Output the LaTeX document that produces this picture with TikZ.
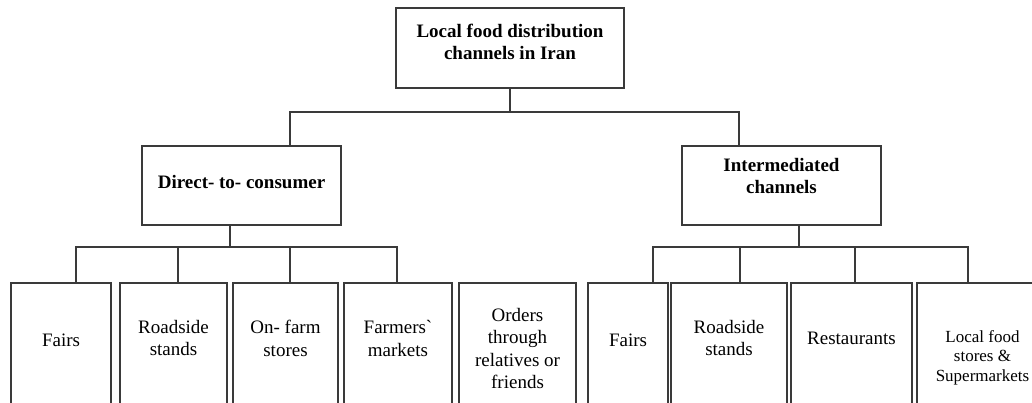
\documentclass[tikz,border=0pt]{standalone}
\usepackage{fontspec}
\setmainfont{Liberation Serif}
\definecolor{linec}{HTML}{3A3A3A}
\begin{document}
\begin{tikzpicture}[x=1pt,y=-1pt,
  box/.style={draw=linec, line width=1.6pt, rectangle, inner sep=0pt, outer sep=0pt, fill=white},
  conn/.style={draw=linec, line width=1.5pt},
  head/.style={font=\fontsize{19}{22}\selectfont\bfseries, align=center, inner sep=0pt},
  leaf/.style={font=\fontsize{19}{22.5}\selectfont, align=center, inner sep=0pt},
  smallleaf/.style={font=\fontsize{17}{19.5}\selectfont, align=center, inner sep=0pt}]
\useasboundingbox (0,0) rectangle (1032,403);
\clip (0,0) rectangle (1032,403);
% level boxes
\node[box, minimum width=228pt, minimum height=80pt] (top) at (510,48) {};
\node[box, minimum width=199pt, minimum height=79pt] (direct) at (241.5,185.5) {};
\node[box, minimum width=199pt, minimum height=79pt] (inter) at (781.5,185.5) {};
% leaf boxes (cut by the lower edge)
\node[box, minimum width=100pt, minimum height=140pt] (fairs) at (61,353) {};
\node[box, minimum width=107pt, minimum height=140pt] (road) at (173.5,353) {};
\node[box, minimum width=105pt, minimum height=140pt] (onfarm) at (285.5,353) {};
\node[box, minimum width=108pt, minimum height=140pt] (farmers) at (398,353) {};
\node[box, minimum width=117pt, minimum height=140pt] (orders) at (517.5,353) {};
\node[box, minimum width=80pt, minimum height=140pt] (fairsb) at (628,353) {};
\node[box, minimum width=116pt, minimum height=140pt] (roadb) at (729,353) {};
\node[box, minimum width=121pt, minimum height=140pt] (rest) at (851.5,353) {};
\node[box, minimum width=131pt, minimum height=140pt] (local) at (982.5,353) {};
% texts
\node[head] (ttop) at (510,42) {Local food distribution\\channels in Iran};
\node[head] (tdirect) at (241.5,182) {Direct- to- consumer};
\node[head] (tinter) at (781.5,176) {Intermediated\\channels};
\node[leaf] (tfairs) at (61,340) {Fairs};
\node[leaf] (troad) at (173.5,338) {Roadside\\stands};
\node[leaf] (tonfarm) at (285.5,338.5) {On- farm\\stores};
\node[leaf] (tfarmers) at (398,338.5) {Farmers\textasciigrave\\markets};
\node[leaf] (torders) at (517.5,348.5) {Orders\\through\\relatives or\\friends};
\node[leaf] (tfairsb) at (628,340) {Fairs};
\node[leaf] (troadb) at (729,338) {Roadside\\stands};
\node[leaf] (trest) at (851.5,338) {Restaurants};
\node[smallleaf] (tlocal) at (982.5,357.5) {Local food\\stores \&\\Supermarkets};
% connectors: root
\draw[conn] (top.south) -- ++(0,24);
\draw[conn] ([xshift=48.5pt]direct.north) -- ++(0,-34) -| ([xshift=-42.5pt]inter.north);
% connectors: direct-to-consumer
\draw[conn] ([xshift=-11.5pt]direct.south) -- ++(0,22);
\draw[conn] ([xshift=15pt]fairs.north) -- ++(0,-36) -| ([xshift=-1pt]farmers.north);
\draw[conn] ([xshift=4.5pt]road.north) -- ++(0,-36);
\draw[conn] ([xshift=4.5pt]onfarm.north) -- ++(0,-36);
% connectors: intermediated
\draw[conn] ([xshift=17.5pt]inter.south) -- ++(0,22);
\draw[conn] ([xshift=25pt]fairsb.north) -- ++(0,-36) -| ([xshift=-14.5pt]local.north);
\draw[conn] ([xshift=11pt]roadb.north) -- ++(0,-36);
\draw[conn] ([xshift=3.5pt]rest.north) -- ++(0,-36);
\end{tikzpicture}
\end{document}
